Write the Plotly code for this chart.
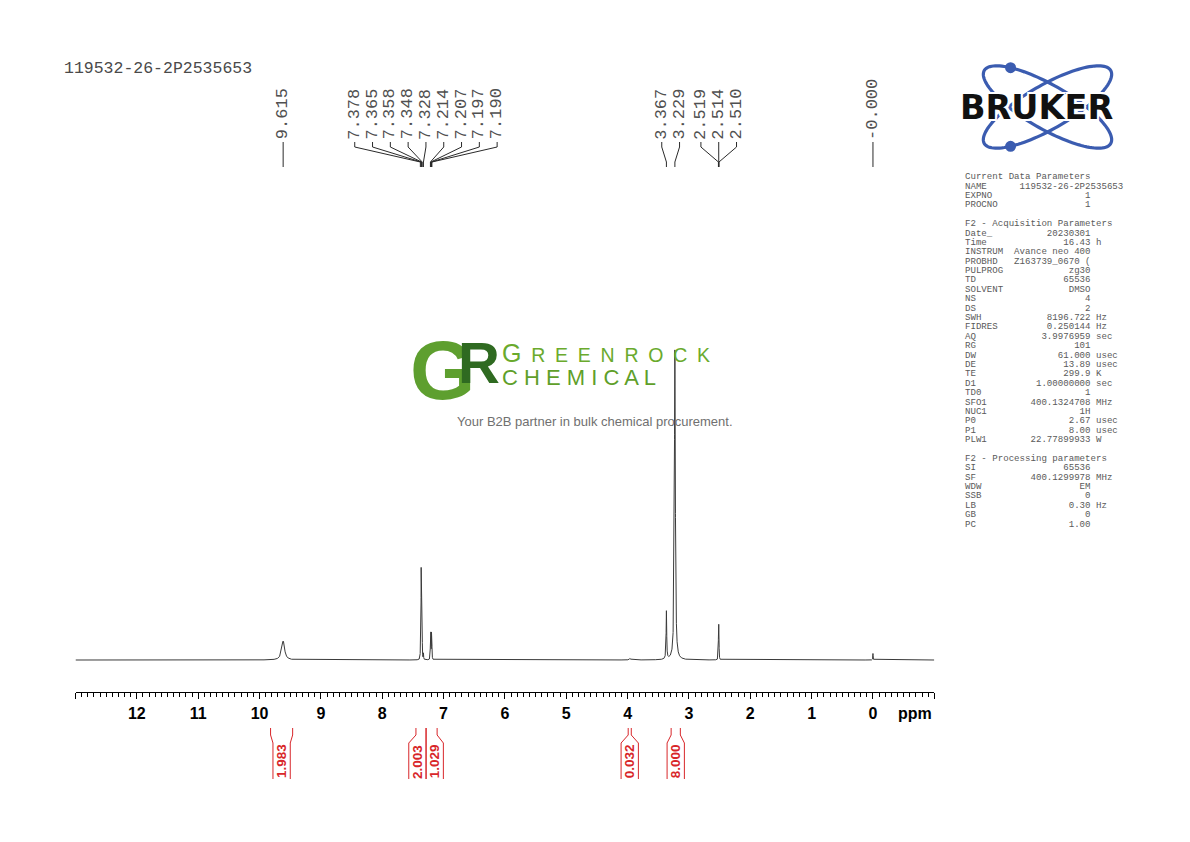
import numpy as np
import plotly.graph_objects as go

W, H = 1190, 842

# ---------------- data ----------------
sample_name = "119532-26-2P2535653"

peak_ppm    = [9.615, 7.378, 7.365, 7.358, 7.348, 7.328, 7.214, 7.207, 7.197, 7.190,
               3.960, 3.367, 3.229, 2.519, 2.514, 2.510, 0.000]
peak_height = [19, 7, 86, 50, 25, 6, 20, 24, 24, 18,
               1.5, 48, 310, 18, 27, 18, 6.5]
peak_hwhm   = [0.028, 0.003, 0.0025, 0.0025, 0.0025, 0.003, 0.0025, 0.0025, 0.0025, 0.0025,
               0.012, 0.0055, 0.009, 0.0025, 0.0025, 0.0025, 0.003]

label_ppm  = [9.615, 7.378, 7.365, 7.358, 7.348, 7.328, 7.214, 7.207, 7.197, 7.190,
              3.367, 3.229, 2.519, 2.514, 2.510, 0.000]
label_text = ["9.615", "7.378", "7.365", "7.358", "7.348", "7.328", "7.214", "7.207",
              "7.197", "7.190", "3.367", "3.229", "2.519", "2.514", "2.510", "-0.000"]

integral_from  = [9.82, 7.45, 7.285, 3.99, 3.29]
integral_to    = [9.46, 7.285, 7.105, 3.94, 3.14]
integral_value = ["1.983", "2.003", "1.029", "0.032", "8.000"]

tick_values = list(range(-1, 14))
tick_text = ["", "0", "1", "2", "3", "4", "5", "6", "7", "8", "9", "10", "11", "12", ""]

param_sections = [
    ("Current Data Parameters", [
        ("NAME", "119532-26-2P2535653", ""),
        ("EXPNO", "1", ""),
        ("PROCNO", "1", ""),
    ]),
    ("F2 - Acquisition Parameters", [
        ("Date_", "20230301", ""),
        ("Time", "16.43", "h"),
        ("INSTRUM", "Avance neo 400", ""),
        ("PROBHD", "Z163739_0670 (", ""),
        ("PULPROG", "zg30", ""),
        ("TD", "65536", ""),
        ("SOLVENT", "DMSO", ""),
        ("NS", "4", ""),
        ("DS", "2", ""),
        ("SWH", "8196.722", "Hz"),
        ("FIDRES", "0.250144", "Hz"),
        ("AQ", "3.9976959", "sec"),
        ("RG", "101", ""),
        ("DW", "61.000", "usec"),
        ("DE", "13.89", "usec"),
        ("TE", "299.9", "K"),
        ("D1", "1.00000000", "sec"),
        ("TD0", "1", ""),
        ("SFO1", "400.1324708", "MHz"),
        ("NUC1", "1H", ""),
        ("P0", "2.67", "usec"),
        ("P1", "8.00", "usec"),
        ("PLW1", "22.77899933", "W"),
    ]),
    ("F2 - Processing parameters", [
        ("SI", "65536", ""),
        ("SF", "400.1299978", "MHz"),
        ("WDW", "EM", ""),
        ("SSB", "0", ""),
        ("LB", "0.30", "Hz"),
        ("GB", "0", ""),
        ("PC", "1.00", ""),
    ]),
]

# ---------------- layout geometry ----------------
X0_PX, X1_PX = 75.5, 934.3
PPM_LEFT, PPM_RIGHT = 13.0, -1.0
AXIS_PX, BASE_PX, TOP_PX = 692.3, 660.0, 340.0
PX_PER_PPM = (X1_PX - X0_PX) / (PPM_LEFT - PPM_RIGHT)

def px(p):
    return p / W

def py(p):
    return 1 - p / H

# ---------------- spectrum ----------------
ppm = np.linspace(PPM_RIGHT, PPM_LEFT, 56001)
intensity = np.zeros_like(ppm)
for c, h, w in zip(peak_ppm, peak_height, peak_hwhm):
    intensity += h / (1 + ((ppm - c) / w) ** 2)

fig = go.Figure()
fig.add_trace(go.Scatter(x=ppm, y=intensity, mode="lines",
                         line=dict(color="#3a3a3a", width=1),
                         hoverinfo="skip", showlegend=False))

shapes = []
annotations = []

# ---------------- peak labels ----------------
LABEL_STEP = 17.8 / PX_PER_PPM

def group_positions(g):
    c = np.mean([label_ppm[i] for i in g])
    n = len(g)
    return [c + LABEL_STEP * ((n - 1) / 2 - k) for k in range(n)]

groups = [[i] for i in range(len(label_ppm))]
changed = True
while changed:
    changed = False
    for j in range(len(groups) - 1):
        a = group_positions(groups[j])
        b = group_positions(groups[j + 1])
        if a[-1] - b[0] < LABEL_STEP - 1e-9:
            groups[j] = groups[j] + groups[j + 1]
            del groups[j + 1]
            changed = True
            break

label_font = dict(family="Liberation Mono, Courier New, monospace", size=17, color="#505050")
for g in groups:
    for i, lx in zip(g, group_positions(g)):
        pk = label_ppm[i]
        shapes.append(dict(type="path", xref="x", yref="paper",
                           path=f"M {lx},{py(142)} L {lx},{py(147)} L {pk},{py(162)} L {pk},{py(167)}",
                           line=dict(color="#2a2a2a", width=1)))
        annotations.append(dict(text=label_text[i], x=lx, y=py(140.5), xref="x", yref="paper",
                                xanchor="center", yanchor="bottom", textangle=-90,
                                showarrow=False, font=label_font, borderpad=0))

# ---------------- integrals ----------------
BOX_W = 17.3 / PX_PER_PPM
boxes = []
for a, b in zip(integral_from, integral_to):
    c = (a + b) / 2
    boxes.append([c + BOX_W / 2, c - BOX_W / 2])
for i in range(len(boxes) - 1):
    if boxes[i][1] < boxes[i + 1][0]:
        bnd = (integral_to[i] + integral_from[i + 1]) / 2
        boxes[i] = [bnd + BOX_W, bnd]
        boxes[i + 1] = [bnd, bnd - BOX_W]

RED = "#d8262a"
for a, b, (bl, br), val in zip(integral_from, integral_to, boxes, integral_value):
    path = (f"M {a},{py(728)} L {a},{py(735)} L {bl},{py(743)} L {bl},{py(779)} "
            f"M {b},{py(728)} L {b},{py(735)} L {br},{py(743)} L {br},{py(779)}")
    shapes.append(dict(type="path", xref="x", yref="paper", path=path,
                       line=dict(color=RED, width=1)))
    annotations.append(dict(text=val, x=(bl + br) / 2, y=py(761.5), xref="x", yref="paper",
                            xanchor="center", yanchor="middle", textangle=-90, showarrow=False,
                            font=dict(family="Liberation Sans, Arial", size=13.5, color=RED,
                                      weight="bold")))

# ---------------- title ----------------
annotations.append(dict(text=sample_name, x=px(62), y=py(68), xref="paper", yref="paper",
                        xanchor="left", yanchor="middle", showarrow=False,
                        font=dict(family="Liberation Mono, Courier New, monospace", size=16.5,
                                  color="#4a4a4a")))

# ppm unit label
annotations.append(dict(text="ppm", x=px(914.5), y=py(713), xref="paper", yref="paper",
                        xanchor="center", yanchor="middle", showarrow=False,
                        font=dict(family="Liberation Sans, Arial", size=16, color="black",
                                  weight="bold")))

# ---------------- parameter block ----------------
lines = []
for header, rows in param_sections:
    if lines:
        lines.append("")
    lines.append(header)
    for name, value, unit in rows:
        if len(value) > 14:
            s = f"{name:<10}{value}"
        else:
            s = f"{name:<9}{value:>14}"
        if unit:
            s += " " + unit
        lines.append(s)

for k, s in enumerate(lines):
    if not s:
        continue
    annotations.append(dict(text=s, x=px(962.5), y=py(176.7 + k * 9.39), xref="paper", yref="paper",
                            xanchor="left", yanchor="middle", showarrow=False,
                            font=dict(family="Liberation Mono, Courier New, monospace", size=9.1,
                                      color="#5a5a5a")))

# ---------------- Bruker logo ----------------
BLUE = "#3b5cb0"
cx, cy, ea, eb = 1047.5, 107.0, 73.0, 22.0
t = np.linspace(0, 2 * np.pi, 120)
for sgn in (1, -1):
    th = np.deg2rad(30) * sgn
    xs = cx + ea * np.cos(t) * np.cos(th) - eb * np.sin(t) * np.sin(th)
    ys = cy + ea * np.cos(t) * np.sin(th) + eb * np.sin(t) * np.cos(th)
    pth = "M " + " L ".join(f"{px(x):.5f},{py(y):.5f}" for x, y in zip(xs, ys)) + " Z"
    shapes.append(dict(type="path", xref="paper", yref="paper", path=pth,
                       line=dict(color=BLUE, width=3.2)))
    tt = np.deg2rad(-135) if sgn == 1 else np.deg2rad(135)
    dx = cx + ea * np.cos(tt) * np.cos(th) - eb * np.sin(tt) * np.sin(th)
    dy = cy + ea * np.cos(tt) * np.sin(th) + eb * np.sin(tt) * np.cos(th)
    r = 5.5
    shapes.append(dict(type="circle", xref="paper", yref="paper",
                       x0=px(dx - r), x1=px(dx + r), y0=py(dy - r), y1=py(dy + r),
                       fillcolor=BLUE, line=dict(color=BLUE, width=0)))

annotations.append(dict(text="BRUKER", x=px(1036), y=py(107.5), xref="paper", yref="paper",
                        xanchor="center", yanchor="middle", showarrow=False,
                        font=dict(family="DejaVu Sans, Arial", size=33.5, color="#111111",
                                  weight="bold",
                                  shadow="2px 2px 0 white, -2px -2px 0 white, 2px -2px 0 white, -2px 2px 0 white")))

# ---------------- Greenrock watermark ----------------
annotations.append(dict(text="G", x=px(442), y=py(370), xref="paper", yref="paper",
                        xanchor="center", yanchor="middle", showarrow=False,
                        font=dict(family="Liberation Sans, Arial", size=84, color="#5e9f2f",
                                  weight="bold")))
annotations.append(dict(text="R", x=px(479), y=py(362), xref="paper", yref="paper",
                        xanchor="center", yanchor="middle", showarrow=False,
                        font=dict(family="Liberation Sans, Arial", size=58, color="#2f6a21",
                                  weight="bold")))
annotations.append(dict(text="<span style='font-size:25px'>G</span>\u2002R\u2002E\u2002E\u2002N\u2002R\u2002O\u2002C\u2002K",
                        x=px(500), y=py(353), xref="paper", yref="paper",
                        xanchor="left", yanchor="middle", showarrow=False,
                        font=dict(family="Liberation Sans, Arial", size=19.5, color="#6aaa2d")))
annotations.append(dict(text="C H E M I C A L", x=px(500), y=py(378), xref="paper", yref="paper",
                        xanchor="left", yanchor="middle", showarrow=False,
                        font=dict(family="Liberation Sans, Arial", size=22, color="#5f9f2a")))
annotations.append(dict(text="Your B2B partner in bulk chemical procurement.",
                        x=px(594.5), y=py(421), xref="paper", yref="paper",
                        xanchor="center", yanchor="middle", showarrow=False,
                        font=dict(family="Liberation Sans, Arial", size=13, color="#707070")))

fig.update_layout(
    width=W, height=H,
    margin=dict(l=0, r=0, t=0, b=0),
    paper_bgcolor="white", plot_bgcolor="white",
    showlegend=False,
    xaxis=dict(range=[PPM_LEFT, PPM_RIGHT], domain=[px(X0_PX), px(X1_PX)],
               showline=True, linecolor="black", linewidth=1,
               ticks="outside", ticklen=6, tickwidth=1, tickcolor="black",
               tickmode="array", tickvals=tick_values, ticktext=tick_text,
               tickfont=dict(family="Liberation Sans, Arial", size=16, color="black",
                             weight="bold"),
               minor=dict(tickmode="linear", tick0=0, dtick=0.1, ticks="outside",
                          ticklen=3.5, tickwidth=1, tickcolor="black", showgrid=False),
               showgrid=False, zeroline=False, anchor="y", fixedrange=True),
    yaxis=dict(range=[-(AXIS_PX - BASE_PX), BASE_PX - TOP_PX],
               domain=[py(AXIS_PX), py(TOP_PX)], visible=False, fixedrange=True),
    shapes=shapes,
    annotations=annotations,
)

fig.write_html("out.html", config={"displayModeBar": False},
               post_script="document.body.style.margin='0';")
